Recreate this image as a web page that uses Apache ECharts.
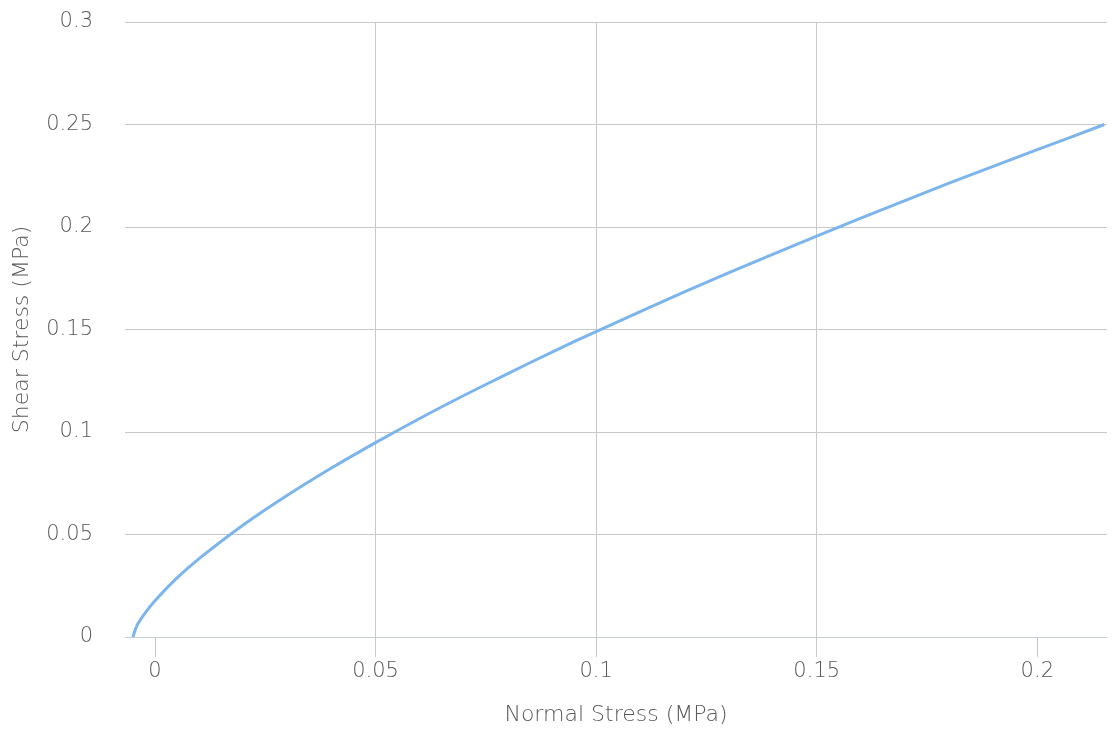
<!DOCTYPE html>
<html>
<head>
<meta charset="utf-8">
<title>Shear Stress vs Normal Stress</title>
<script src="https://cdn.jsdelivr.net/npm/echarts@6/dist/echarts.min.js"></script>
<style>
  html, body { margin: 0; padding: 0; background: #ffffff; }
  #chart { width: 1113px; height: 737px; }
</style>
</head>
<body>
<div id="chart"></div>
<script>
// Failure envelope: normal stress (MPa) against shear stress (MPa)
const normalStress = [-0.005, -0.004, -0.002, 0, 0.005, 0.01, 0.02, 0.03, 0.04, 0.05,
  0.06, 0.07, 0.08, 0.09, 0.1, 0.12, 0.14, 0.16, 0.18, 0.2, 0.2152];
const shearStress = [0, 0.006, 0.0124, 0.0177, 0.0288, 0.0382, 0.0546, 0.0691, 0.0824, 0.0948,
  0.1066, 0.1178, 0.1285, 0.139, 0.149, 0.1683, 0.1867, 0.2043, 0.2214, 0.2377, 0.25];
const xTicks = [0, 0.05, 0.1, 0.15, 0.2];
const yTicks = [0, 0.05, 0.1, 0.15, 0.2, 0.25, 0.3];

const points = normalStress.map((x, i) => [x, shearStress[i]]);

const textColor = '#585858';
const gridColor = '#c8c8c8';
const fontFamily = '"DejaVu Sans", sans-serif';

const chart = echarts.init(document.getElementById('chart'), null, { renderer: 'canvas' });
chart.setOption({
  animation: false,
  backgroundColor: '#ffffff',
  grid: { left: 125, right: 6, top: 22, bottom: 100, containLabel: false },
  xAxis: {
    type: 'value',
    min: -0.0068,
    max: 0.2158,
    name: 'Normal Stress (MPa)',
    nameLocation: 'middle',
    nameGap: 67,
    nameTextStyle: { color: textColor, fontSize: 22, fontFamily: fontFamily, fontWeight: 200 },
    axisLine: { show: true, onZero: false, lineStyle: { color: '#c5ced8', width: 1 } },
    axisTick: { show: true, inside: false, length: 20, customValues: xTicks, lineStyle: { color: gridColor, width: 1 } },
    axisLabel: {
      customValues: xTicks, color: textColor, fontSize: 21, fontFamily: fontFamily, fontWeight: 200, margin: 24,
      formatter: v => String(v)
    },
    splitLine: { show: true, showMinLine: false, showMaxLine: false, lineStyle: { color: gridColor, width: 1 } }
  },
  yAxis: {
    type: 'value',
    min: 0,
    max: 0.3,
    interval: 0.05,
    name: 'Shear Stress (MPa)',
    nameLocation: 'middle',
    nameGap: 92,
    nameRotate: 90,
    nameTextStyle: { color: textColor, fontSize: 22, fontFamily: fontFamily, fontWeight: 200 },
    axisLine: { show: false },
    axisTick: { show: false },
    axisLabel: {
      customValues: yTicks, color: textColor, fontSize: 21, fontFamily: fontFamily, fontWeight: 200, margin: 32,
      formatter: v => String(v)
    },
    splitLine: { show: true, lineStyle: { color: gridColor, width: 1 } }
  },
  series: [{
    type: 'line',
    data: points,
    smooth: 0.3,
    showSymbol: false,
    lineStyle: { color: '#7cb5ec', width: 3 },
    itemStyle: { color: '#7cb5ec' }
  }]
});
</script>
</body>
</html>
